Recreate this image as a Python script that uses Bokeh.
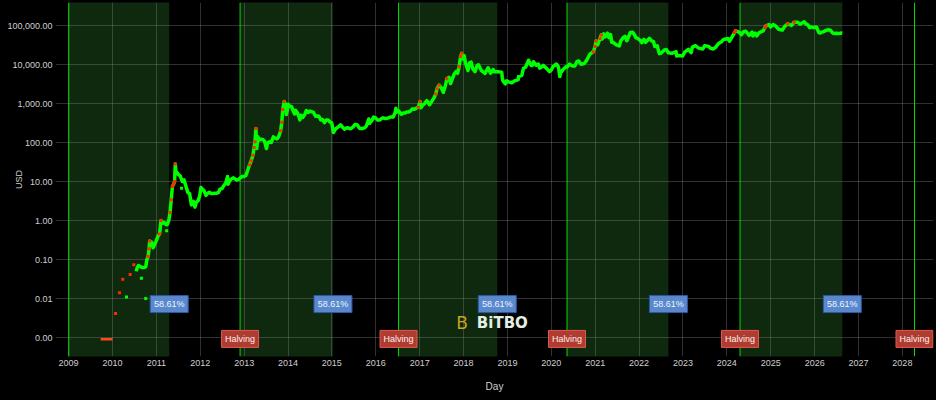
import pandas as pd
from bokeh.plotting import figure
from bokeh.models import Range1d, FixedTicker, NumeralTickFormatter, DatetimeTickFormatter, Span
from bokeh.embed import file_html
from bokeh.resources import INLINE
from bokeh.core.properties import value

# ---------------- data ----------------
cycle_starts = ["2009-01-03", "2012-11-28", "2016-07-09", "2020-05-11", "2024-04-20"]
halvings = ["2012-11-28", "2016-07-09", "2020-05-11", "2024-04-20", "2028-04-11"]
cycle_progress = 0.5861
progress_text = "58.61%"
halving_text = "Halving"
year_ticks = list(range(2009, 2029))
price_ticks = [0.001, 0.01, 0.1, 1, 10, 100, 1000, 10000, 100000]

# earliest quotes (flat dash near 0.001)
dash_dates = ["2009-09-25", "2009-10-20", "2009-11-15", "2009-12-10", "2010-01-02"]
dash_prices = [0.00090, 0.00090, 0.00090, 0.00090, 0.00090]

# isolated early / outlier quotes
sparse_dates = ["2010-01-27", "2010-02-28", "2010-03-28", "2010-04-28", "2010-05-28",
                "2010-06-28", "2010-08-30", "2010-10-05", "2011-03-28", "2011-07-30"]
sparse_prices = [0.0041, 0.014, 0.031, 0.011, 0.041, 0.073, 0.033, 0.010, 0.55, 6.7]
sparse_hot = [True, True, True, False, True, True, False, False, False, False]

price_dates = [
    "2010-07-18", "2010-07-25", "2010-08-05", "2010-08-20", "2010-09-05", "2010-09-20", "2010-10-05",
    "2010-10-15", "2010-10-25", "2010-11-02", "2010-11-07", "2010-11-12", "2010-11-22", "2010-12-05",
    "2010-12-18", "2010-12-31",
    "2011-01-15", "2011-01-28", "2011-02-09", "2011-02-20", "2011-03-05", "2011-03-20", "2011-04-01",
    "2011-04-15", "2011-04-25", "2011-05-05", "2011-05-15", "2011-05-25", "2011-06-02", "2011-06-08",
    "2011-06-13", "2011-06-22", "2011-07-05", "2011-07-20", "2011-08-05", "2011-08-20", "2011-09-05",
    "2011-09-20", "2011-10-05", "2011-10-20", "2011-11-05", "2011-11-18", "2011-12-01", "2011-12-15",
    "2011-12-28",
    "2012-01-08", "2012-01-20", "2012-02-01", "2012-02-18", "2012-03-01", "2012-03-15", "2012-04-01",
    "2012-04-15", "2012-05-01", "2012-05-15", "2012-06-01", "2012-06-15", "2012-07-01", "2012-07-15",
    "2012-08-01", "2012-08-16", "2012-08-20", "2012-09-01", "2012-09-15", "2012-10-01", "2012-10-15",
    "2012-11-01", "2012-11-15", "2012-12-01", "2012-12-15",
    "2013-01-01", "2013-01-15", "2013-02-01", "2013-02-15", "2013-03-01", "2013-03-15", "2013-03-25",
    "2013-04-01", "2013-04-09", "2013-04-16", "2013-04-25", "2013-05-05", "2013-05-20", "2013-06-05",
    "2013-06-20", "2013-07-05", "2013-07-15", "2013-08-01", "2013-08-15", "2013-09-01", "2013-09-15",
    "2013-10-01", "2013-10-15", "2013-11-01", "2013-11-10", "2013-11-18", "2013-11-30", "2013-12-07",
    "2013-12-10", "2013-12-18", "2013-12-28",
    "2014-01-05", "2014-01-15", "2014-02-01", "2014-02-10", "2014-02-25", "2014-03-05", "2014-03-20",
    "2014-04-01", "2014-04-10", "2014-04-20", "2014-05-05", "2014-05-20", "2014-06-03", "2014-06-18",
    "2014-07-01", "2014-07-15", "2014-08-01", "2014-08-18", "2014-09-01", "2014-09-15", "2014-10-01",
    "2014-10-15", "2014-11-01", "2014-11-15", "2014-12-01", "2014-12-15", "2014-12-31",
    "2015-01-14", "2015-02-01", "2015-02-15", "2015-03-01", "2015-03-15", "2015-04-01", "2015-04-15",
    "2015-05-01", "2015-05-15", "2015-06-01", "2015-06-15", "2015-07-01", "2015-07-12", "2015-08-01",
    "2015-08-19", "2015-09-01", "2015-09-15", "2015-10-01", "2015-10-15", "2015-11-04", "2015-11-11",
    "2015-12-01", "2015-12-15", "2015-12-31",
    "2016-01-15", "2016-02-01", "2016-02-15", "2016-03-01", "2016-03-15", "2016-04-01", "2016-04-15",
    "2016-05-01", "2016-05-25", "2016-06-10", "2016-06-17", "2016-06-23", "2016-07-09", "2016-08-02",
    "2016-08-15", "2016-09-01", "2016-09-15", "2016-10-01", "2016-10-15", "2016-11-01", "2016-11-15",
    "2016-12-01", "2016-12-20",
    "2017-01-04", "2017-01-11", "2017-01-25", "2017-02-10", "2017-03-01", "2017-03-24", "2017-04-15",
    "2017-05-01", "2017-05-15", "2017-05-25", "2017-06-12", "2017-07-01", "2017-07-16", "2017-08-01",
    "2017-08-15", "2017-09-01", "2017-09-15", "2017-10-01", "2017-10-15", "2017-11-01", "2017-11-12",
    "2017-11-25", "2017-12-07", "2017-12-17", "2017-12-22",
    "2018-01-06", "2018-01-16", "2018-02-06", "2018-02-20", "2018-03-05", "2018-03-18", "2018-04-06",
    "2018-04-25", "2018-05-05", "2018-05-28", "2018-06-15", "2018-06-29", "2018-07-24", "2018-08-14",
    "2018-09-05", "2018-09-15", "2018-10-15", "2018-11-14", "2018-11-20", "2018-11-25", "2018-12-15",
    "2018-12-25",
    "2019-01-10", "2019-02-07", "2019-03-01", "2019-04-01", "2019-04-03", "2019-05-01", "2019-05-14",
    "2019-06-01", "2019-06-26", "2019-07-16", "2019-07-28", "2019-08-06", "2019-08-29", "2019-09-15",
    "2019-09-26", "2019-10-10", "2019-10-26", "2019-11-20", "2019-12-17",
    "2020-01-01", "2020-01-15", "2020-02-13", "2020-03-01", "2020-03-12", "2020-03-20", "2020-04-06",
    "2020-05-01", "2020-05-11", "2020-06-01", "2020-06-25", "2020-07-15", "2020-08-01", "2020-08-17",
    "2020-09-05", "2020-10-01", "2020-10-21", "2020-11-05", "2020-11-20", "2020-12-16", "2020-12-31",
    "2021-01-08", "2021-01-22", "2021-02-09", "2021-02-21", "2021-02-28", "2021-03-13", "2021-03-25",
    "2021-04-13", "2021-04-25", "2021-05-08", "2021-05-19", "2021-06-01", "2021-06-22", "2021-07-20",
    "2021-08-01", "2021-08-22", "2021-09-06", "2021-09-21", "2021-10-01", "2021-10-20", "2021-11-08",
    "2021-11-25", "2021-12-04", "2021-12-20",
    "2022-01-10", "2022-01-24", "2022-02-10", "2022-02-24", "2022-03-28", "2022-04-15", "2022-05-01",
    "2022-05-12", "2022-06-01", "2022-06-18", "2022-07-01", "2022-07-30", "2022-08-15", "2022-09-01",
    "2022-10-01", "2022-11-05", "2022-11-10", "2022-12-01", "2022-12-30",
    "2023-01-15", "2023-02-15", "2023-03-10", "2023-03-20", "2023-04-14", "2023-05-12", "2023-06-15",
    "2023-07-01", "2023-08-01", "2023-08-18", "2023-09-11", "2023-10-01", "2023-10-24", "2023-11-15",
    "2023-12-05",
    "2024-01-11", "2024-01-23", "2024-02-15", "2024-03-05", "2024-03-14", "2024-04-01", "2024-04-20",
    "2024-05-01", "2024-05-21", "2024-06-07", "2024-07-05", "2024-07-29", "2024-08-05", "2024-08-25",
    "2024-09-06", "2024-09-27", "2024-10-29", "2024-11-12", "2024-11-22", "2024-12-17", "2024-12-30",
    "2025-01-20", "2025-02-10", "2025-02-28", "2025-03-10", "2025-04-07", "2025-04-25", "2025-05-22",
    "2025-06-22", "2025-07-14", "2025-08-14", "2025-09-01", "2025-10-06", "2025-10-20", "2025-11-05",
    "2025-11-21", "2025-12-05", "2025-12-25",
    "2026-01-15", "2026-02-05", "2026-02-15", "2026-03-05", "2026-03-25", "2026-04-10", "2026-05-01",
    "2026-05-15", "2026-06-01", "2026-06-15", "2026-07-01", "2026-07-20", "2026-08-05", "2026-08-19",
]
prices = [
    0.05, 0.06, 0.07, 0.066, 0.062, 0.062, 0.065,
    0.10, 0.12, 0.19, 0.30, 0.25, 0.28, 0.20,
    0.24, 0.30,
    0.40, 0.45, 1.0, 0.85, 0.90, 0.80, 0.78,
    1.0, 1.6, 3.4, 7.5, 8.5, 10.0, 28.0,
    18.0, 17.0, 15.0, 13.7, 10.0, 11.0, 7.5,
    5.2, 4.9, 2.5, 3.1, 2.2, 3.0, 3.2,
    4.3,
    7.0, 6.3, 5.9, 4.4, 4.9, 5.3, 4.9,
    4.95, 5.0, 5.0, 5.2, 6.4, 6.6, 7.8,
    9.2, 13.5, 8.5, 10.2, 11.5, 12.4, 11.8,
    10.9, 11.3, 12.5, 13.4,
    13.4, 14.2, 20, 27, 34, 47, 75,
    104, 230, 70, 140, 115, 122, 120,
    108, 70, 98, 105, 100, 140, 130,
    125, 140, 200, 330, 700, 1130, 700,
    1000, 520, 730,
    950, 850, 830, 680, 540, 670, 580,
    470, 380, 500, 440, 520, 660, 590,
    640, 620, 590, 470, 480, 470, 380,
    390, 325, 380, 380, 340, 315,
    180, 225, 240, 260, 285, 245, 220,
    235, 238, 225, 235, 260, 290, 280,
    230, 230, 230, 238, 265, 400, 310,
    370, 450, 430,
    380, 375, 405, 430, 415, 415, 430,
    450, 450, 580, 750, 600, 650, 530,
    570, 575, 610, 610, 640, 730, 710,
    750, 800,
    1130, 780, 900, 990, 1190, 930, 1180,
    1420, 1750, 2400, 2950, 2500, 1930, 2730,
    4300, 4700, 3250, 4400, 5700, 6700, 5950,
    8700, 16000, 19300, 13800,
    17000, 11200, 7000, 11200, 11500, 7800, 6600,
    9500, 9800, 7100, 6400, 5900, 8200, 6000,
    7400, 6500, 6500, 6300, 4500, 3800, 3200,
    3800,
    3600, 3400, 3800, 4100, 4900, 5300, 8000,
    8500, 12900, 9500, 9500, 11800, 9500, 10300,
    8100, 8500, 9500, 8100, 6600,
    7200, 8800, 10300, 8600, 4900, 6200, 7300,
    8800, 8600, 10200, 9200, 9200, 11800, 12300,
    10200, 10600, 12800, 15600, 18700, 21300, 29000,
    40000, 32000, 46500, 57500, 45000, 61000, 51000,
    63500, 49000, 58800, 37000, 36500, 32500, 29800,
    40000, 49500, 52700, 40700, 48000, 66000, 67500,
    57000, 49000, 46700,
    41800, 36300, 44000, 37000, 47000, 40500, 38500,
    29000, 30000, 19000, 19300, 23700, 24200, 20000,
    19400, 21300, 16500, 17000, 16500,
    20800, 24500, 20200, 28000, 30400, 26300, 25000,
    30500, 29200, 26000, 25100, 28000, 34500, 37800,
    44000,
    46500, 39500, 51800, 66000, 73000, 69600, 64900,
    58000, 70000, 71000, 56000, 68000, 54000, 64000,
    53800, 66000, 72500, 88500, 98500, 106000, 92000,
    106000, 97500, 84000, 80000, 76000, 94000, 111000,
    100000, 122000, 121000, 108000, 125000, 110000, 104000,
    88000, 92000, 88000,
    92000, 66000, 64000, 68000, 72000, 76000, 78000,
    74000, 64000, 62000, 63000, 62000, 64000, 63000,
]

hot_periods = [
    ("2010-10-25", "2010-11-08"), ("2011-01-20", "2011-02-12"), ("2011-04-20", "2011-06-09"),
    ("2013-02-10", "2013-04-10"), ("2013-10-25", "2013-12-01"), ("2016-12-20", "2017-01-05"),
    ("2017-05-15", "2017-06-12"), ("2017-08-05", "2017-08-20"), ("2017-11-20", "2017-12-17"),
    ("2020-12-10", "2021-01-08"), ("2021-02-05", "2021-02-21"), ("2024-02-25", "2024-03-14"),
    ("2024-11-08", "2024-11-22"), ("2025-05-05", "2025-05-22"), ("2025-07-08", "2025-07-14"),
]

# ---------------- derived ----------------
starts = pd.to_datetime(cycle_starts)
nexts = pd.to_datetime(halvings)
region_end = starts + (nexts - starts) * cycle_progress

pdates = pd.to_datetime(price_dates)
hot_mask = [any(pd.Timestamp(a) <= d <= pd.Timestamp(b) for a, b in hot_periods) for d in pdates]
hot_dates = [d for d, h in zip(pdates, hot_mask) if h]
hot_prices = [v for v, h in zip(prices, hot_mask) if h]

sd = pd.to_datetime(sparse_dates)
sp_col = ["#ff2a00" if h else "#00ff00" for h in sparse_hot]

FONT = "Liberation Sans"
TXT = "#cfcfcf"

p = figure(width=936, height=400, x_axis_type="datetime", y_axis_type="log",
           output_backend="svg", toolbar_location=None,
           x_range=Range1d(pd.Timestamp("2008-09-14"), pd.Timestamp("2028-09-16")),
           y_range=Range1d(10 ** -3.487, 10 ** 5.59),
           min_border_left=55, min_border_right=3, min_border_top=2, min_border_bottom=44)
p.background_fill_color = "#000000"
p.border_fill_color = "#000000"
p.outline_line_color = None

# cycle regions
p.quad(left=starts, right=region_end, bottom=1e-6, top=1e7,
       fill_color="#0e290e", line_color=None, level="image")

# halving lines (and genesis)
for d in list(starts[:1]) + list(nexts):
    p.add_layout(Span(location=pd.Timestamp(d).value / 1e6, dimension="height",
                      line_color="#00ff00", line_width=1, line_alpha=0.85, level="underlay"))

# axes
p.xaxis.ticker = FixedTicker(ticks=[pd.Timestamp(f"{y}-01-01").value / 1e6 for y in year_ticks])
p.xaxis.formatter = DatetimeTickFormatter(years="%Y", months="%Y", days="%Y", hours="%Y",
                                          minutes="%Y", seconds="%Y", milliseconds="%Y",
                                          microseconds="%Y", minsec="%Y", hourmin="%Y")
p.yaxis.ticker = FixedTicker(ticks=price_ticks)
p.yaxis.formatter = NumeralTickFormatter(format="0,0.00")
for ax in (p.xaxis[0], p.yaxis[0]):
    ax.axis_line_color = None
    ax.major_tick_line_color = None
    ax.minor_tick_line_color = None
    ax.major_tick_out = 0
    ax.major_tick_in = 0
    ax.major_label_text_color = TXT
    ax.major_label_text_font = FONT
    ax.major_label_text_font_size = "9px"
    ax.axis_label_text_color = TXT
    ax.axis_label_text_font = FONT
    ax.axis_label_text_font_style = "normal"
p.yaxis.major_label_standoff = 3
p.yaxis.axis_label = "USD"
p.yaxis.axis_label_text_font_size = "9px"
p.yaxis.axis_label_standoff = -20
p.xaxis.major_label_standoff = 3
p.xaxis.axis_label = "Day"
p.xaxis.axis_label_text_font_size = "10px"
p.xaxis.axis_label_standoff = 12

p.xgrid.ticker = p.xaxis[0].ticker
p.ygrid.ticker = p.yaxis[0].ticker
for g in (p.xgrid[0], p.ygrid[0]):
    g.grid_line_color = "#8a8a8a"
    g.grid_line_alpha = 0.35
    g.minor_grid_line_color = None

# price series
p.line(pd.to_datetime(dash_dates), dash_prices, line_color="#ff4a10", line_width=2.5)
p.line(pdates, prices, line_color="#00ff00", line_width=3.5, line_join="round")
p.scatter(hot_dates, hot_prices, marker="square", size=3, fill_color="#ff2a00", line_color=None)
p.scatter(sd, sparse_prices, marker="square", size=3, fill_color=sp_col, line_color=None)

# progress labels
p.rect(x=region_end, y=[0.0072] * len(region_end), width=38, height=17,
       width_units="screen", height_units="screen",
       fill_color="#5a88cc", line_color="#2f56a8", line_width=1)
p.text(x=region_end, y=[0.0072] * len(region_end), text=[progress_text] * len(region_end),
       text_font=value(FONT), text_font_size="9px", text_align="center", text_baseline="middle",
       text_color="#eef3ff")

# halving labels
p.rect(x=nexts, y=[0.00092] * len(nexts), width=37, height=17,
       width_units="screen", height_units="screen",
       fill_color="#b03c31", line_color="#e35a4e", line_width=1)
p.text(x=nexts, y=[0.00092] * len(nexts), text=[halving_text] * len(nexts),
       text_font=value(FONT), text_font_size="9px", text_align="center", text_baseline="middle",
       text_color="#fbeeee")

# watermark
p.text(x=[pd.Timestamp("2018-11-20")], y=[0.0023], text=["BiTBO"],
       text_font=value("DejaVu Sans"), text_font_style="bold", text_font_size="15px",
       text_align="center", text_baseline="middle", text_color="#e4efe4")
p.text(x=[pd.Timestamp("2017-12-20")], y=[0.0023], text=["B"],
       text_font=value("DejaVu Sans"), text_font_size="17px",
       text_align="center", text_baseline="middle", text_color="#c9a226")

html = file_html(p, INLINE)
html = html.replace("<head>", "<head><style>body{background:#000000;}</style>", 1)
open("out.html", "w").write(html)
